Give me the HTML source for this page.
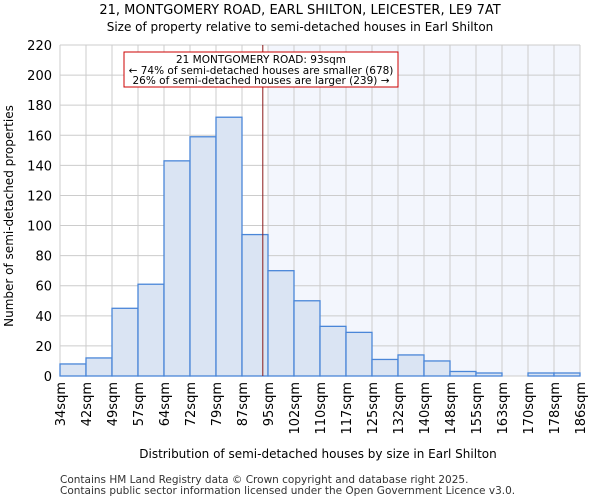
<!DOCTYPE html>
<html><head><meta charset="utf-8"><style>body{margin:0;background:#fff;font-family:"DejaVu Sans","Liberation Sans",sans-serif}</style></head>
<body>
<svg id="c" width="600" height="500" style="font-family:'DejaVu Sans','Liberation Sans',sans-serif">
<text x="300" y="14" text-anchor="middle" font-size="13">21, MONTGOMERY ROAD, EARL SHILTON, LEICESTER, LE9 7AT</text>
<text x="300" y="31" text-anchor="middle" font-size="12">Size of property relative to semi-detached houses in Earl Shilton</text>
<g id="plot"></g>
<text x="318" y="458" text-anchor="middle" font-size="12">Distribution of semi-detached houses by size in Earl Shilton</text>
<text transform="translate(13,216) rotate(-90)" text-anchor="middle" font-size="12">Number of semi-detached properties</text>
<text x="60" y="483" font-size="10.5" fill="#333">Contains HM Land Registry data © Crown copyright and database right 2025.</text>
<text x="60" y="494" font-size="10.5" fill="#333">Contains public sector information licensed under the Open Government Licence v3.0.</text>
</svg>
<script>
const categories=["34sqm","42sqm","49sqm","57sqm","64sqm","72sqm","79sqm","87sqm","95sqm","102sqm","110sqm","117sqm","125sqm","132sqm","140sqm","148sqm","155sqm","163sqm","170sqm","178sqm","186sqm"];
const counts=[8,12,45,61,143,159,172,94,70,50,33,29,11,14,10,3,2,0,2,2];
const yTicks=[0,20,40,60,80,100,120,140,160,180,200,220];
const markerIndex=7.8;
const X0=60,X1=580,Y0=376,Y1=45,YMAX=220;
const bw=(X1-X0)/counts.length;
const xs=i=>X0+i*bw, ys=v=>Y0-(v/YMAX)*(Y0-Y1);
const NS="http://www.w3.org/2000/svg",g=document.getElementById('plot');
function mk(t,a,p){const e=document.createElementNS(NS,t);for(const k in a)e.setAttribute(k,a[k]);(p||g).appendChild(e);return e;}
const mx=xs(markerIndex);
const sh=mk('rect',{x:xs(8),y:Y1,width:X1-xs(8),height:Y0-Y1,fill:'#f3f6fd'});


yTicks.forEach(t=>{
 const l=mk('line',{x1:X0,x2:X1,y1:ys(t),y2:ys(t),stroke:'#cccccc'});
 
 
 const tx=mk('text',{x:X0-8,y:ys(t)+5,'text-anchor':'end','font-size':13});tx.textContent=t;
 
 
});
categories.forEach((c,i)=>{
 const x=xs(i);
 const l=mk('line',{x1:x,x2:x,y1:Y1,y2:Y0,stroke:'#cccccc'});
 
 
 const tx=mk('text',{transform:`translate(${x+5},382) rotate(-90)`,'text-anchor':'end','font-size':13});tx.textContent=c;
 
 
});
counts.forEach((v,i)=>{
 const r=mk('rect',{x:xs(i),y:ys(v),width:bw,height:Y0-ys(v),fill:'#dae4f3',stroke:'#4a86d8','stroke-width':1.3});
 
 
});
const ml=mk('line',{x1:mx,x2:mx,y1:Y1,y2:Y0,stroke:'#8b1a1a','stroke-width':1});


const box=mk('rect',{x:124,y:52,width:274,height:35,fill:'#fff',stroke:'#cc0000'});


[["21 MONTGOMERY ROAD: 93sqm",63],["← 74% of semi-detached houses are smaller (678)",74],["26% of semi-detached houses are larger (239) →",84]].forEach(([s,y])=>{
 const t=mk('text',{x:261,y:y,'text-anchor':'middle','font-size':10.5});t.textContent=s;
 
 
});
</script>
</body></html>
